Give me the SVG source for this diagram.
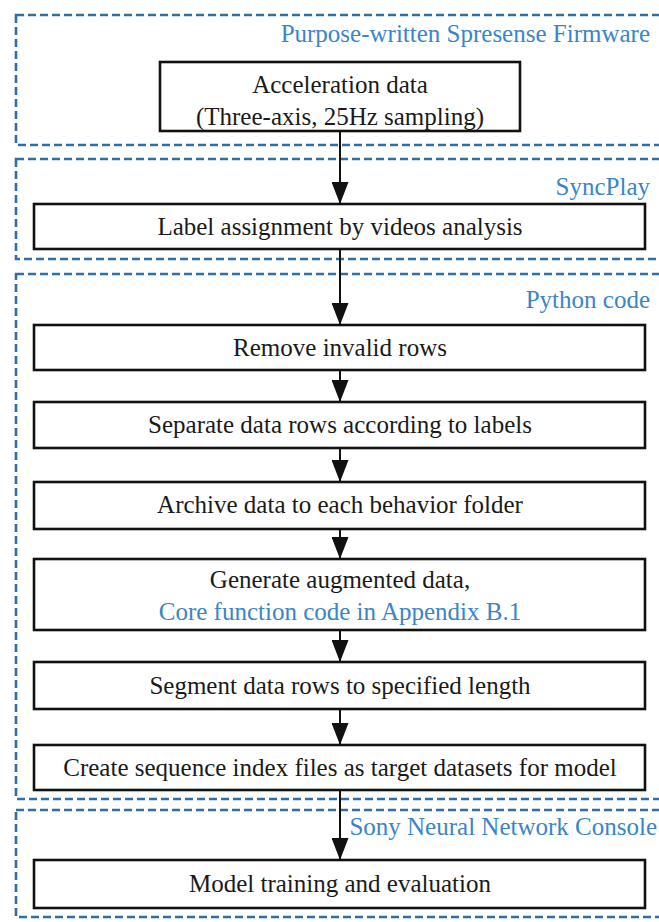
<svg xmlns="http://www.w3.org/2000/svg" width="659" height="922" viewBox="0 0 659 922">
<defs>
<style>
.grp{fill:none;stroke:#2f6ea6;stroke-width:2.6;stroke-dasharray:8 4}
.box{fill:#ffffff;stroke:#111111;stroke-width:2.6}
.t{font-family:"Liberation Serif","Times New Roman",serif;font-size:25px;fill:#1a1a1a;text-anchor:middle}
.g{font-family:"Liberation Serif","Times New Roman",serif;font-size:25px;fill:#3a85c6;text-anchor:end}
.b{fill:#3a85c6}
.ln{stroke:#111111;stroke-width:2;fill:none;marker-end:url(#ah)}
</style>
<marker id="ah" viewBox="0 0 22 17" refX="22" refY="8.5" markerWidth="22" markerHeight="17" markerUnits="userSpaceOnUse" orient="auto">
<path d="M0,0 L22,8.5 L0,17 Z" fill="#111111"/>
</marker>
</defs>
<rect width="659" height="922" fill="#ffffff"/>
<g id="group-firmware">
<rect class="grp" x="16" y="15" width="660" height="130"/>
<text class="g" x="650" y="42">Purpose-written Spresense Firmware</text>
</g>
<g id="group-syncplay">
<rect class="grp" x="16" y="159" width="660" height="100"/>
<text class="g" x="650" y="195">SyncPlay</text>
</g>
<g id="group-python">
<rect class="grp" x="16" y="274" width="660" height="525"/>
<text class="g" x="650" y="308">Python code</text>
</g>
<g id="group-sony">
<rect class="grp" x="16" y="810" width="660" height="107"/>
<text class="g" x="657" y="835">Sony Neural Network Console</text>
</g>
<g id="connectors">
<line class="ln" x1="340" y1="131" x2="340" y2="204"/>
<line class="ln" x1="340" y1="249" x2="340" y2="325"/>
<line class="ln" x1="340" y1="370" x2="340" y2="402"/>
<line class="ln" x1="340" y1="448" x2="340" y2="482"/>
<line class="ln" x1="340" y1="529" x2="340" y2="559"/>
<line class="ln" x1="340" y1="630" x2="340" y2="662"/>
<line class="ln" x1="340" y1="709" x2="340" y2="745"/>
<line class="ln" x1="340" y1="790" x2="340" y2="860"/>
</g>
<g id="node-acceleration">
<rect class="box" x="160" y="62" width="360" height="69"/>
<text class="t" x="340" y="93">Acceleration data</text>
<text class="t" x="340" y="125">(Three-axis, 25Hz sampling)</text>
</g>
<g id="node-label">
<rect class="box" x="34" y="204" width="611" height="45"/>
<text class="t" x="340" y="235">Label assignment  by videos analysis</text>
</g>
<g id="node-remove">
<rect class="box" x="34" y="325" width="611" height="45"/>
<text class="t" x="340" y="356">Remove invalid rows</text>
</g>
<g id="node-separate">
<rect class="box" x="34" y="402" width="611" height="46"/>
<text class="t" x="340" y="433">Separate data rows according to labels</text>
</g>
<g id="node-archive">
<rect class="box" x="34" y="482" width="611" height="47"/>
<text class="t" x="340" y="513">Archive data to each behavior folder</text>
</g>
<g id="node-generate">
<rect class="box" x="34" y="559" width="611" height="71"/>
<text class="t" x="340" y="588">Generate augmented data,</text>
<text class="t b" x="340" y="620">Core function code in Appendix B.1</text>
</g>
<g id="node-segment">
<rect class="box" x="34" y="662" width="611" height="47"/>
<text class="t" x="340" y="694">Segment data rows to specified length</text>
</g>
<g id="node-create">
<rect class="box" x="34" y="745" width="611" height="45"/>
<text class="t" x="340" y="776">Create sequence index files as target datasets for model</text>
</g>
<g id="node-model">
<rect class="box" x="34" y="860" width="611" height="48"/>
<text class="t" x="340" y="892">Model training and evaluation</text>
</g>
</svg>
